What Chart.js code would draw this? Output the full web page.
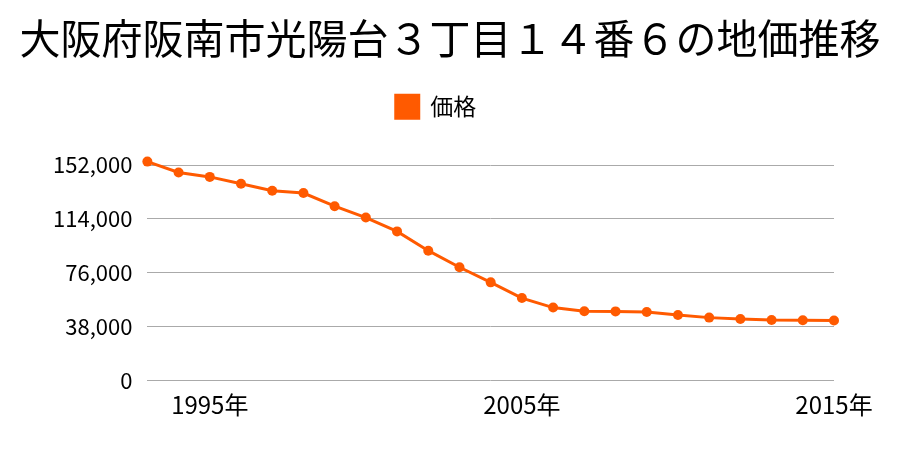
<!DOCTYPE html>
<html>
<head>
<meta charset="utf-8">
<script src="https://cdn.jsdelivr.net/npm/chart.js@4.4.1/dist/chart.umd.min.js"></script>
<style>
    html, body { margin: 0; padding: 0; background: #fff; }
    #wrap { width: 900px; height: 450px; }
</style>
</head>
<body>
<div id="wrap"><canvas id="chart" width="900" height="450"></canvas></div>
<script>
const years = ['1993', '1994', '1995', '1996', '1997', '1998', '1999', '2000', '2001', '2002', '2003', '2004',
    '2005', '2006', '2007', '2008', '2009', '2010', '2011', '2012', '2013', '2014', '2015'];
const prices = [154400, 146700, 143600, 138700, 133800, 132200, 122900, 114900, 105100, 91500, 79800, 69100,
    58000, 51300, 48700, 48600, 48200, 46100, 44200, 43200, 42500, 42300, 42200];
const yTicks = [0, 38000, 76000, 114000, 152000];
const xTickYears = ['1995', '2005', '2015'];

const orange = '#ff5a00';
const font = '"Noto Sans CJK JP", "Noto Sans", sans-serif';

// title is centred on the whole canvas, not on the padded box
const centerTitle = {
    id: 'centerTitle',
    afterLayout(chart) {
        if (chart.titleBlock) {
            chart.titleBlock.left = 0;
            chart.titleBlock.right = chart.width;
        }
    }
};

document.addEventListener('DOMContentLoaded', function() {
    const ctx = document.getElementById('chart').getContext('2d');

    new Chart(ctx, {
        type: 'line',
        data: {
            labels: years,
            datasets: [{
                label: '価格',
                data: prices,
                borderColor: orange,
                backgroundColor: orange,
                borderWidth: 3,
                pointRadius: 5,
                pointHoverRadius: 5,
                pointBackgroundColor: orange,
                pointBorderWidth: 0,
                tension: 0,
                clip: false
            }]
        },
        plugins: [centerTitle],
        options: {
            responsive: false,
            animation: false,
            devicePixelRatio: 1,
            layout: {
                padding: { left: 38, right: 66, top: 0, bottom: 21 }
            },
            plugins: {
                title: {
                    display: true,
                    text: '大阪府阪南市光陽台３丁目１４番６の地価推移',
                    color: '#000',
                    font: { family: font, size: 41, weight: 'normal' },
                    padding: { top: 14, bottom: 20 }
                },
                legend: {
                    display: true,
                    labels: {
                        color: '#000',
                        font: { family: font, size: 23 },
                        boxWidth: 23,
                        boxHeight: 23,
                        padding: 12
                    }
                },
                tooltip: { enabled: false }
            },
            scales: {
                x: {
                    offset: false,
                    grid: { display: false, drawTicks: false },
                    border: { display: false },
                    ticks: {
                        autoSkip: false,
                        maxRotation: 0,
                        padding: 10,
                        color: '#000',
                        font: { family: font, size: 24 },
                        callback: function(value, index) {
                            const y = years[index];
                            return xTickYears.includes(y) ? y + '年' : '';
                        }
                    }
                },
                y: {
                    min: 0,
                    max: 178000,
                    afterBuildTicks: function(axis) {
                        axis.ticks = yTicks.map(v => ({ value: v }));
                    },
                    grid: { color: '#aaaaaa', lineWidth: 1, drawTicks: false },
                    border: { display: false },
                    ticks: {
                        padding: 15,
                        color: '#000',
                        font: { family: font, size: 22 },
                        callback: function(value) {
                            return value.toLocaleString('en-US');
                        }
                    }
                }
            }
        }
    });
});
</script>
</body>
</html>
